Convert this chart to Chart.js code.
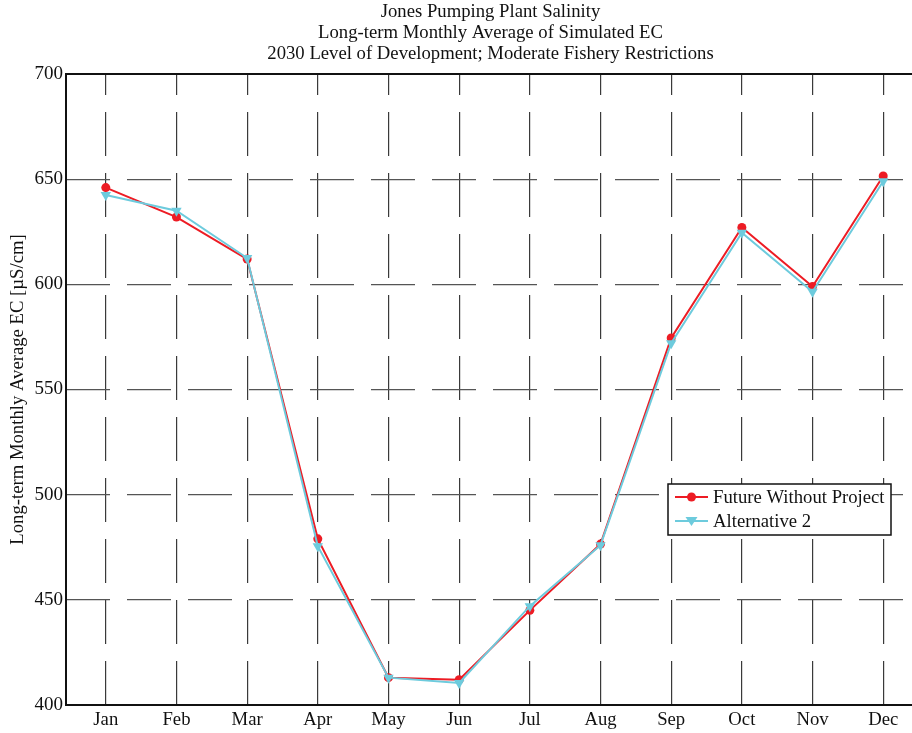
<!DOCTYPE html>
<html><head><meta charset="utf-8">
<script src="https://cdn.jsdelivr.net/npm/chart.js@4.4.0/dist/chart.umd.min.js"></script>
<style>html,body{margin:0;padding:0;overflow:hidden;background:#fff}#wrap{width:921px;height:733px}</style>
</head><body><div id="wrap"><canvas id="c" width="921" height="733"></canvas></div>
<script>
const months = ['Jan','Feb','Mar','Apr','May','Jun','Jul','Aug','Sep','Oct','Nov','Dec'];
const futureWithoutProject = [646, 632, 612, 479, 413, 412, 445, 476.5, 574.5, 627, 599, 651.5];
const alternative2 = [642.5, 635, 612.5, 475.5, 413, 410.5, 447, 476, 572, 624.5, 596.5, 649];
const yTicks = [400, 450, 500, 550, 600, 650, 700];
const seriesLabels = ['Future Without Project', 'Alternative 2'];
const titleLines = ['Jones Pumping Plant Salinity', 'Long-term Monthly Average of Simulated EC', '2030 Level of Development; Moderate Fishery Restrictions'];
const yAxisTitle = 'Long-term Monthly Average EC [\u00B5S/cm]';

const FONT = '"Liberation Serif", "Times New Roman", serif';
const FS = 18.7;
const RED = '#ED1C24', CYAN = '#6DCBDD';

const titlePlugin = {
  id: 'mtitle',
  afterDraw(chart) {
    const {ctx, chartArea} = chart;
    ctx.save();
    ctx.fillStyle = '#111';
    ctx.font = FS + 'px ' + FONT;
    ctx.textAlign = 'center';
    ctx.textBaseline = 'middle';
    const cx = (chartArea.left + chartArea.right) / 2;
    titleLines.forEach((t, i) => ctx.fillText(t, cx, 12 + i * 21));
    ctx.translate(18, (chartArea.top + chartArea.bottom) / 2);
    ctx.rotate(-Math.PI / 2);
    ctx.fillText(yAxisTitle, 0, 0);
    ctx.restore();
  }
};
const framePlugin = {
  id: 'frame',
  afterDraw(chart) {
    const {ctx, chartArea: a} = chart;
    ctx.save();
    ctx.strokeStyle = '#111';
    ctx.lineWidth = 2;
    ctx.beginPath();
    ctx.moveTo(a.right, a.top); ctx.lineTo(a.left, a.top); ctx.lineTo(a.left, a.bottom); ctx.lineTo(a.right, a.bottom);
    ctx.stroke();
    ctx.restore();
  }
};
const legendPlugin = {
  id: 'mlegend',
  afterDraw(chart) {
    const {ctx} = chart;
    const x0 = 668, y0 = 484, w = 223, h = 51;
    ctx.save();
    ctx.fillStyle = '#fff';
    ctx.fillRect(x0, y0, w, h);
    ctx.strokeStyle = '#111';
    ctx.lineWidth = 1.5;
    ctx.strokeRect(x0, y0, w, h);
    chart.data.datasets.forEach((ds, i) => {
      const y = y0 + 13 + i * 24;
      ctx.strokeStyle = ds.borderColor;
      ctx.lineWidth = 2;
      ctx.beginPath(); ctx.moveTo(675, y); ctx.lineTo(708, y); ctx.stroke();
      ctx.fillStyle = ds.borderColor;
      ctx.beginPath();
      if (ds.pointStyle === 'circle') {
        ctx.arc(691.5, y, 4.5, 0, Math.PI * 2);
      } else {
        ctx.moveTo(685.5, y - 4); ctx.lineTo(697.5, y - 4); ctx.lineTo(691.5, y + 5); ctx.closePath();
      }
      ctx.fill();
      ctx.fillStyle = '#111';
      ctx.font = FS + 'px ' + FONT;
      ctx.textAlign = 'left';
      ctx.textBaseline = 'middle';
      ctx.fillText(ds.label, 713, y + 1);
    });
    ctx.restore();
  }
};

const toXY = arr => arr.map((v, i) => ({x: i + 1, y: v}));

new Chart(document.getElementById('c'), {
  type: 'line',
  data: {
    datasets: [
      {label: seriesLabels[0], data: toXY(futureWithoutProject), borderColor: RED, backgroundColor: RED,
       borderWidth: 2, pointStyle: 'circle', pointRadius: 4.5, pointBorderWidth: 0, tension: 0, order: 2},
      {label: seriesLabels[1], data: toXY(alternative2), borderColor: CYAN, backgroundColor: CYAN,
       borderWidth: 2, pointStyle: 'triangle', rotation: 180, pointRadius: 6, pointBorderWidth: 0, tension: 0, order: 1}
    ]
  },
  options: {
    responsive: false,
    animation: false,
    layout: {padding: {top: 74, right: 2, left: 0, bottom: 0}},
    plugins: {legend: {display: false}, tooltip: {enabled: false}, title: {display: false}},
    scales: {
      x: {
        type: 'linear', min: 0.437, max: 12.45,
        afterBuildTicks: s => { s.ticks = months.map((m, i) => ({value: i + 1})); },
        afterFit: s => { s.height = 28; },
        ticks: {callback: v => months[v - 1] || '', font: {family: FONT, size: FS}, color: '#111', padding: 4, maxRotation: 0, autoSkip: false},
        grid: {color: '#3a3a3a', lineWidth: 1.2, drawTicks: false},
        border: {display: false, dash: [44, 17], dashOffset: 23}
      },
      y: {
        min: 400, max: 700,
        afterBuildTicks: s => { s.ticks = yTicks.map(v => ({value: v})); },
        afterFit: s => { s.width = 66; },
        ticks: {font: {family: FONT, size: 19}, color: '#111', padding: 3},
        grid: {color: '#555', lineWidth: 1.2, drawTicks: false},
        border: {display: false, dash: [44, 17], dashOffset: 0}
      }
    }
  },
  plugins: [titlePlugin, framePlugin, legendPlugin]
});
</script>
</body></html>
